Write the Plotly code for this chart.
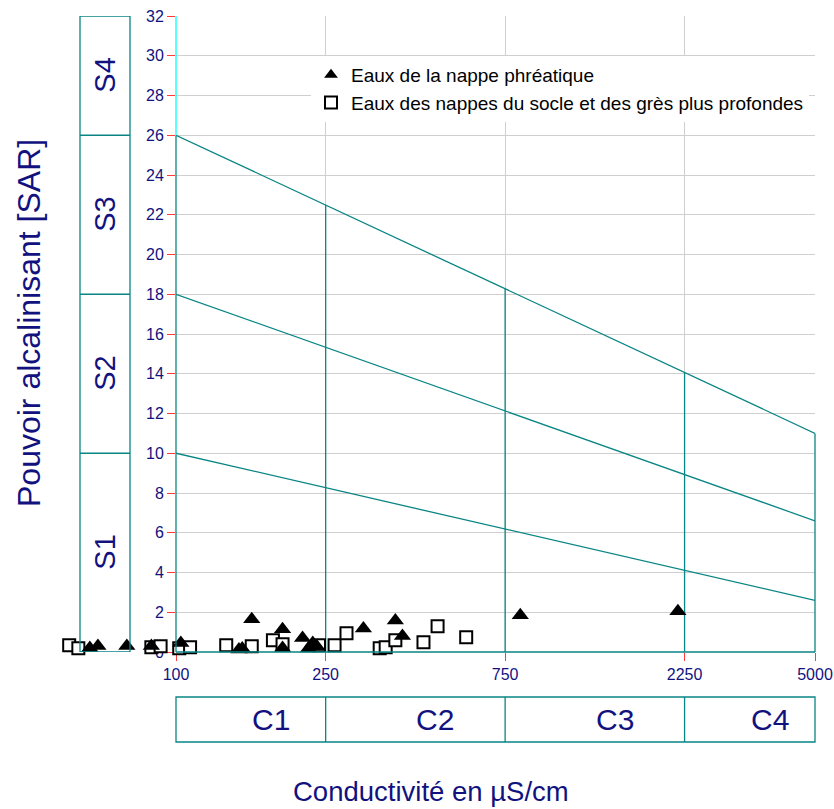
import math
import plotly.graph_objects as go

# ---------------- data ----------------
# Eaux de la nappe phréatique (triangles)
cond_nappe = [59, 62, 74, 86, 103, 147, 150, 159, 192, 192, 217, 231, 225, 237, 315, 383, 400, 823, 2160]
sar_nappe = [0.2, 0.3, 0.3, 0.3, 0.45, 0.12, 0.18, 1.65, 1.15, 0.2, 0.7, 0.45, 0.18, 0.28, 1.18, 1.58, 0.8, 1.85, 2.05]

# Eaux des nappes du socle et des grès plus profondes (squares)
cond_socle = [52, 55, 86, 91, 102, 109, 136, 159, 181, 192, 240, 264, 284, 348, 361, 383, 455, 496, 591]
sar_socle = [0.34, 0.19, 0.24, 0.29, 0.19, 0.24, 0.34, 0.29, 0.59, 0.39, 0.34, 0.34, 0.94, 0.19, 0.24, 0.59, 0.49, 1.30, 0.74]

cond_ticks = [100, 250, 750, 2250, 5000]
sar_ticks = list(range(0, 33, 2))
c_classes = ["C1", "C2", "C3", "C4"]
s_classes = ["S1", "S2", "S3", "S4"]
sar_at_100 = [10, 18, 26]      # S-class boundaries at 100 µS/cm
sar_at_5000 = [2.6, 6.6, 11.0]  # same boundaries at 5000 µS/cm
sar_max = 32

name_nappe = "Eaux de la nappe phréatique"
name_socle = "Eaux des nappes du socle et des grès plus profondes"

# ---------------- style ----------------
TEAL = "#0a8585"
CYAN = "#00ffff"
NAVY = "#12127f"
GRID = "#cfcfcf"
TICK = "#ff3b3b"
FONT = "Arial, Liberation Sans, sans-serif"

W, H = 834, 809
ML, MR, MT, MB = 40, 19, 16, 157     # figure margins
PLOT_L = 176                          # pixel of the main plot's left edge
PW = W - ML - MR
PH = H - MT - MB
MAIN_W = W - MR - PLOT_L

lmin, lmax = math.log10(cond_ticks[0]), math.log10(cond_ticks[-1])
px_per_dec = MAIN_W / (lmax - lmin)


def px_x(p):
    return (p - ML) / PW


def px_y(p):
    return (H - MB - p) / PH


def dom(v):
    return (math.log10(v) - lmin) / (lmax - lmin)


fig = go.Figure()

# empty trace to hold the main subplot
fig.add_trace(go.Scatter(x=[], y=[], xaxis="x", yaxis="y", showlegend=False, hoverinfo="skip"))

fig.add_trace(go.Scatter(
    x=cond_socle, y=sar_socle, mode="markers", name=name_socle, xaxis="x2", yaxis="y2",
    marker=dict(symbol="square", size=12, color="white", line=dict(color="black", width=2)),
    cliponaxis=False, legendrank=2, hoverinfo="skip"))
fig.add_trace(go.Scatter(
    x=cond_nappe, y=sar_nappe, mode="markers", name=name_nappe, xaxis="x2", yaxis="y2",
    marker=dict(symbol="triangle-up", size=15, color="black", line=dict(width=0)),
    cliponaxis=False, legendrank=1, hoverinfo="skip"))

shapes = []
top_a, top_b = sar_at_100[-1], sar_at_5000[-1]
for a, b in zip(sar_at_100, sar_at_5000):
    shapes.append(dict(type="line", xref="x", yref="y", x0=cond_ticks[0], x1=cond_ticks[-1],
                       y0=a, y1=b, line=dict(color=TEAL, width=1.3), layer="between"))
for c in cond_ticks[1:-1]:
    yt = top_a + (top_b - top_a) * dom(c)
    shapes.append(dict(type="line", xref="x", yref="y", x0=c, x1=c, y0=0, y1=yt,
                       line=dict(color=TEAL, width=1.3), layer="between"))
# borders of the main plot
shapes.append(dict(type="line", xref="x domain", yref="y", x0=0, x1=0, y0=0, y1=top_a,
                   line=dict(color=TEAL, width=1.3), layer="above"))
shapes.append(dict(type="line", xref="x domain", yref="y", x0=0, x1=0, y0=top_a, y1=sar_max,
                   line=dict(color=CYAN, width=1.3), layer="above"))
shapes.append(dict(type="line", xref="x domain", yref="y", x0=1, x1=1, y0=0, y1=top_b,
                   line=dict(color=TEAL, width=1.3), layer="above"))
shapes.append(dict(type="line", xref="x domain", yref="paper", x0=0, x1=1, y0=0, y1=0,
                   line=dict(color=TEAL, width=1.5), layer="above"))

# S boxes on the left
sx0, sx1 = px_x(80), px_x(130)
shapes.append(dict(type="rect", xref="paper", yref="y", x0=sx0, x1=sx1, y0=0, y1=sar_max,
                   line=dict(color=TEAL, width=1.3), layer="above"))
for a in sar_at_100:
    shapes.append(dict(type="line", xref="paper", yref="y", x0=sx0, x1=sx1, y0=a, y1=a,
                       line=dict(color=TEAL, width=1.3), layer="above"))

# C boxes at the bottom
cy0, cy1 = px_y(742), px_y(697)
shapes.append(dict(type="rect", xref="x domain", yref="paper", x0=0, x1=1, y0=cy0, y1=cy1,
                   line=dict(color=TEAL, width=1.3), layer="above"))
for c in cond_ticks[1:-1]:
    shapes.append(dict(type="line", xref="x domain", yref="paper", x0=dom(c), x1=dom(c), y0=cy0, y1=cy1,
                       line=dict(color=TEAL, width=1.3), layer="above"))

annotations = []
s_bounds = [0] + sar_at_100 + [sar_max]
for i, s in enumerate(s_classes):
    annotations.append(dict(text=s, xref="paper", yref="y", x=(sx0 + sx1) / 2,
                            y=(s_bounds[i] + s_bounds[i + 1]) / 2, textangle=-90,
                            showarrow=False, xanchor="center", yanchor="middle",
                            font=dict(family=FONT, size=29, color=NAVY)))
for i, c in enumerate(c_classes):
    xm = (dom(cond_ticks[i]) + dom(cond_ticks[i + 1])) / 2 + 20 / MAIN_W
    annotations.append(dict(text=c, xref="x domain", yref="paper", x=xm, y=(cy0 + cy1) / 2,
                            showarrow=False, xanchor="center", yanchor="middle",
                            font=dict(family=FONT, size=30, color=NAVY)))
annotations.append(dict(text="Pouvoir alcalinisant [SAR]", xref="paper", yref="paper",
                        x=px_x(29), y=px_y(323), textangle=-90, showarrow=False,
                        xanchor="center", yanchor="middle",
                        font=dict(family=FONT, size=32, color=NAVY)))
annotations.append(dict(text="Conductivité en µS/cm", xref="paper", yref="paper",
                        x=px_x(431), y=px_y(791), showarrow=False,
                        xanchor="center", yanchor="middle",
                        font=dict(family=FONT, size=27.5, color=NAVY)))

x2_lo = lmin - (PLOT_L - ML) / px_per_dec

fig.update_layout(
    width=W, height=H, autosize=False,
    margin=dict(l=ML, r=MR, t=MT, b=MB, autoexpand=False),
    paper_bgcolor="white", plot_bgcolor="rgba(0,0,0,0)",
    shapes=shapes, annotations=annotations,
    showlegend=True,
    legend=dict(x=px_x(311), y=px_y(56), xanchor="left", yanchor="top",
                bgcolor="white", borderwidth=0,
                font=dict(family=FONT, size=19, color="black"),
                itemsizing="constant", tracegroupgap=0),
    xaxis=dict(type="log", domain=[px_x(PLOT_L), 1], anchor="y", range=[lmin, lmax],
               tickvals=cond_ticks, automargin=False,
               ticktext=[str(v) for v in cond_ticks], ticks="outside", ticklen=8,
               tickcolor=TICK, tickwidth=1.2, showgrid=True, gridcolor=GRID, gridwidth=1.3,
               zeroline=False, showline=False,
               tickfont=dict(family=FONT, size=16, color=NAVY)),
    yaxis=dict(range=[0, sar_max], anchor="x", tickvals=sar_ticks, ticks="outside", ticklen=8,
               tickcolor=TICK, tickwidth=1.2, showgrid=True, gridcolor=GRID, gridwidth=1.3,
               zeroline=False, showline=False, automargin=False,
               tickfont=dict(family=FONT, size=16, color=NAVY)),
    xaxis2=dict(type="log", domain=[0, 1], anchor="y2", range=[x2_lo, lmax], visible=False,
                showgrid=False, zeroline=False, automargin=False),
    yaxis2=dict(domain=[0, 1], anchor="x2", range=[0, sar_max], visible=False,
                showgrid=False, zeroline=False, automargin=False),
)

fig.write_html("out.html", config={"responsive": False, "displayModeBar": False},
               post_script="document.body.style.margin='0';document.body.style.overflow='hidden';")
